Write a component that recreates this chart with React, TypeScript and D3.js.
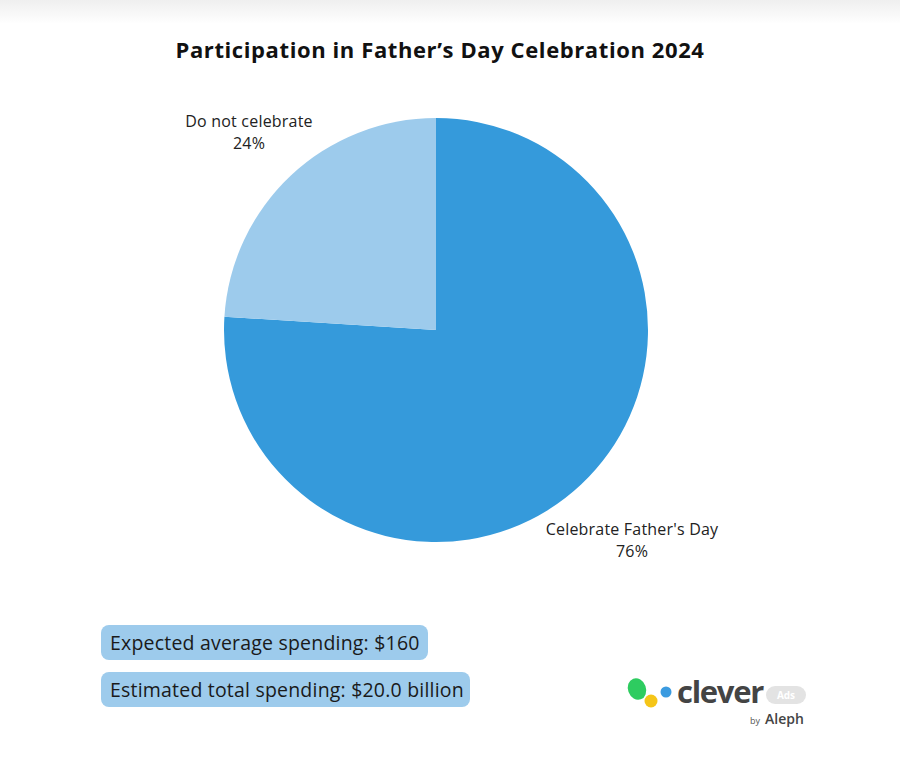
import React from "react";
import * as d3 from "d3";

const categories = ["Celebrate Father's Day", "Do not celebrate"];
const values = [76, 24];
const colors = ["#359ADB", "#9DCBEC"];
const infoLines = ["Expected average spending: $160", "Estimated total spending: $20.0 billion"];

const W = 900;
const H = 760;

export default function App() {
  const cx = 436, cy = 330, r = 212;
  const pie = d3.pie<number>().sort(null).startAngle(0).endAngle(2 * Math.PI);
  const arcs = pie(values);
  const arcGen = d3.arc<d3.PieArcDatum<number>>().innerRadius(0).outerRadius(r);
  const font = "'Open Sans', sans-serif";
  const labelPos = [
    { x: 632 - cx, y: 535 - cy },
    { x: 249 - cx, y: 127 - cy },
  ];
  const boxWidths = [327, 369];
  return (
    <div style={{ position: "absolute", left: 0, top: 0 }}>
      <svg width={W} height={H} style={{ display: "block" }}>
        <defs>
          <linearGradient id="topg" x1="0" y1="0" x2="0" y2="1">
            <stop offset="0" stopColor="#efefef" />
            <stop offset="1" stopColor="#ffffff" />
          </linearGradient>
        </defs>
        <rect x={0} y={0} width={W} height={H} fill="#fff" />
        <rect x={0} y={0} width={W} height={24} fill="url(#topg)" />
        <text x={440} y={58} textAnchor="middle" fontFamily={font} fontWeight={700} fontSize={22} letterSpacing={0.6} fill="#111">
          Participation in Father’s Day Celebration 2024
        </text>
        <g transform={`translate(${cx},${cy})`}>
          {arcs.map((a, i) => (
            <path key={i} d={arcGen(a.index === 1 ? { ...a, startAngle: a.startAngle - 2 * Math.PI, endAngle: a.endAngle - 2 * Math.PI } : a) || ""} fill={colors[i]} />
          ))}
          {arcs.map((a, i) => (
            <text key={"l" + i} x={labelPos[i].x} y={labelPos[i].y} textAnchor="middle" fontFamily={font} fontSize={16} letterSpacing={0.2} fill="#222">
              <tspan x={labelPos[i].x} dy={0}>{categories[i]}</tspan>
              <tspan x={labelPos[i].x} dy={22}>{`${values[i]}%`}</tspan>
            </text>
          ))}
        </g>
        {infoLines.map((t, i) => (
          <g key={"b" + i}>
            <rect x={101} y={625 + i * 47} width={boxWidths[i]} height={35} rx={8} fill="#9DCBEC" />
            <text x={110} y={650 + i * 47} fontFamily={font} fontSize={19.5} letterSpacing={0.2} fill="#1a1a1a">{t}</text>
          </g>
        ))}
        <g>
          <ellipse cx={637} cy={689} rx={9} ry={11} transform="rotate(-20 637 689)" fill="#2ecc60" />
          <circle cx={651} cy={701} r={6.5} fill="#f5c518" />
          <circle cx={666} cy={692} r={5.5} fill="#3b9be0" />
          <text x={677} y={703} fontFamily="'Open Sans', sans-serif" fontWeight={700} fontSize={31} fill="#444" letterSpacing={-1.3}>clever</text>
          <rect x={766} y={686} width={40} height={18} rx={9} fill="#e3e3e3" />
          <text x={786} y={699} textAnchor="middle" fontFamily="'Open Sans', sans-serif" fontSize={10} fontWeight={700} fill="#fff">Ads</text>
          <text x={750} y={724} fontFamily="'Open Sans', sans-serif" fontSize={9} fill="#555">by</text>
          <text x={765} y={724} fontFamily="'Open Sans', sans-serif" fontSize={14} fontWeight={600} fill="#444">Aleph</text>
        </g>
      </svg>
    </div>
  );
}
